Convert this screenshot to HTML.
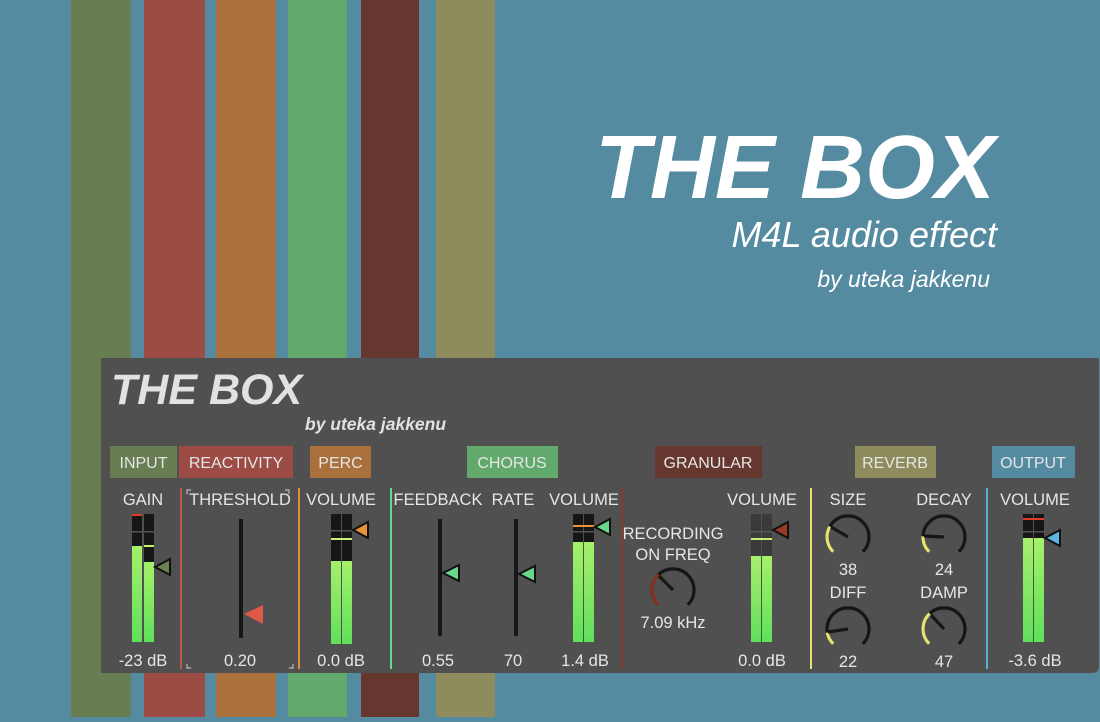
<!DOCTYPE html>
<html><head><meta charset="utf-8"><style>
html,body{margin:0;padding:0;}
body{width:1100px;height:717px;background:#548ba0;overflow:hidden;font-family:"Liberation Sans",sans-serif;}
svg text{font-family:"Liberation Sans",sans-serif;}
</style></head><body>
<svg width="1100" height="717" viewBox="0 0 1100 717" xmlns="http://www.w3.org/2000/svg">
<defs>
<linearGradient id="g" x1="0" y1="0" x2="0" y2="1"><stop offset="0" stop-color="#a6f06a"/><stop offset="1" stop-color="#5fe05a"/></linearGradient>
</defs>
<rect width="1100" height="717" fill="#548ba0"/>
<rect x="71" y="0" width="60" height="717" fill="#687d52"/>
<rect x="144" y="0" width="61" height="717" fill="#9c4b45"/>
<rect x="216" y="0" width="60" height="717" fill="#aa703e"/>
<rect x="288" y="0" width="59" height="717" fill="#62a96c"/>
<rect x="361" y="0" width="58" height="717" fill="#66372f"/>
<rect x="436" y="0" width="59" height="717" fill="#8e8c5c"/>
<text x="995" y="198" text-anchor="end" font-size="90" font-weight="bold" font-style="italic" fill="#fff">THE BOX</text>
<text x="997" y="247" text-anchor="end" font-size="36" font-style="italic" fill="#fff">M4L audio effect</text>
<text x="990" y="287" text-anchor="end" font-size="23" font-style="italic" fill="#fff">by uteka jakkenu</text>
<path d="M101 358 H1099 V666 Q1099 673 1092 673 H101 Z" fill="#505050"/>
<text x="111" y="404" font-size="43" font-weight="bold" font-style="italic" fill="#e2e2e2">THE BOX</text>
<text x="305" y="430" font-size="17.5" font-weight="bold" font-style="italic" fill="#e2e2e2">by uteka jakkenu</text>
<g font-size="16" fill="#e6e6e6" text-anchor="middle">
<rect x="110" y="446" width="67" height="32" fill="#687d52"/><text x="143.5" y="468">INPUT</text>
<rect x="179" y="446" width="114" height="32" fill="#9c4b45"/><text x="236" y="468">REACTIVITY</text>
<rect x="310" y="446" width="61" height="32" fill="#aa703e"/><text x="340.5" y="468">PERC</text>
<rect x="467" y="446" width="91" height="32" fill="#62a96c"/><text x="512" y="468">CHORUS</text>
<rect x="655" y="446" width="107" height="32" fill="#66372f"/><text x="708" y="468">GRANULAR</text>
<rect x="855" y="446" width="81" height="32" fill="#8e8c5c"/><text x="895" y="468">REVERB</text>
<rect x="992" y="446" width="83" height="32" fill="#548ba0"/><text x="1033" y="468">OUTPUT</text>
</g>
<rect x="180" y="488" width="2" height="181" fill="#c0574b"/>
<rect x="298" y="488" width="2" height="181" fill="#e08a3a"/>
<rect x="390" y="488" width="2" height="181" fill="#6ad88a"/>
<rect x="621" y="488" width="2" height="181" fill="#8a3a2a"/>
<rect x="810" y="488" width="2" height="181" fill="#e8e070"/>
<rect x="986" y="488" width="2" height="181" fill="#5ab0d0"/>
<g font-size="16.5" fill="#e6e6e6" text-anchor="middle">
<text x="143" y="505">GAIN</text>
<text x="240" y="505">THRESHOLD</text>
<text x="341" y="505">VOLUME</text>
<text x="438" y="505">FEEDBACK</text>
<text x="513" y="505">RATE</text>
<text x="584" y="505">VOLUME</text>
<text x="762" y="505">VOLUME</text>
<text x="673" y="539">RECORDING</text>
<text x="673" y="560">ON FREQ</text>
<text x="848" y="505">SIZE</text>
<text x="944" y="505">DECAY</text>
<text x="848" y="598">DIFF</text>
<text x="944" y="598">DAMP</text>
<text x="1035" y="505">VOLUME</text>
<text x="143" y="666">-23 dB</text>
<text x="240" y="666">0.20</text>
<text x="341" y="666">0.0 dB</text>
<text x="438" y="666">0.55</text>
<text x="513" y="666">70</text>
<text x="585" y="666">1.4 dB</text>
<text x="673" y="628">7.09 kHz</text>
<text x="762" y="666">0.0 dB</text>
<text x="848" y="575">38</text>
<text x="944" y="575">24</text>
<text x="848" y="667">22</text>
<text x="944" y="667">47</text>
<text x="1035" y="666">-3.6 dB</text>
</g>
<g stroke="#bbb" stroke-width="1.2" fill="none">
<path d="M187 494 V490 H191"/><path d="M289 494 V490 H285"/>
<path d="M187 664 V668 H191"/><path d="M293 664 V668 H289"/>
</g>
<g>
<rect x="132" y="514" width="10" height="128" fill="#161616"/><rect x="144" y="514" width="10" height="128" fill="#161616"/>
<rect x="132" y="546" width="10" height="96" fill="url(#g)"/><rect x="144" y="562" width="10" height="80" fill="url(#g)"/>
<rect x="132" y="514" width="10" height="2" fill="#e03a2a"/><rect x="144" y="545" width="10" height="2" fill="#c8f070"/>
<rect x="131" y="531" width="24" height="1.5" fill="#555"/>
<path d="M155 567 L170 559 L170 575 Z" fill="#6c8052" stroke="#111" stroke-width="2"/>
<rect x="239" y="519" width="4" height="119" fill="#161616"/>
<path d="M244 614 L263 605 L263 624 Z" fill="#e0584a"/>
<rect x="331" y="514" width="10" height="130" fill="#161616"/><rect x="342" y="514" width="10" height="130" fill="#161616"/>
<rect x="331" y="561" width="10" height="83" fill="url(#g)"/><rect x="342" y="561" width="10" height="83" fill="url(#g)"/>
<rect x="330" y="530" width="23" height="1.5" fill="#555"/>
<rect x="331" y="538" width="21" height="2" fill="#c8f070"/>
<path d="M353 530 L368 522 L368 538 Z" fill="#e8923a" stroke="#111" stroke-width="2"/>
<rect x="438" y="519" width="4" height="117" fill="#161616"/>
<path d="M443 573 L459 565 L459 581 Z" fill="#6ad88a" stroke="#111" stroke-width="2"/>
<rect x="514" y="519" width="4" height="117" fill="#161616"/>
<path d="M519 574 L535 566 L535 582 Z" fill="#6ad88a" stroke="#111" stroke-width="2"/>
<rect x="573" y="514" width="10" height="128" fill="#161616"/><rect x="584" y="514" width="10" height="128" fill="#161616"/>
<rect x="573" y="542" width="10" height="100" fill="url(#g)"/><rect x="584" y="542" width="10" height="100" fill="url(#g)"/>
<rect x="573" y="525" width="21" height="2" fill="#e8923a"/>
<rect x="572" y="531" width="23" height="1.5" fill="#555"/>
<path d="M595 527 L610 519 L610 535 Z" fill="#6ad88a" stroke="#111" stroke-width="2"/>
<rect x="751" y="514" width="10" height="128" fill="#3a3a3a"/><rect x="762" y="514" width="10" height="128" fill="#3a3a3a"/>
<rect x="751" y="556" width="10" height="86" fill="url(#g)"/><rect x="762" y="556" width="10" height="86" fill="url(#g)"/>
<rect x="750" y="531" width="23" height="1.5" fill="#555"/>
<rect x="751" y="538" width="21" height="2" fill="#c8f070"/>
<path d="M773 530 L788 522 L788 538 Z" fill="#9a3a26" stroke="#111" stroke-width="2"/>
<rect x="1023" y="514" width="10" height="128" fill="#161616"/><rect x="1034" y="514" width="10" height="128" fill="#161616"/>
<rect x="1023" y="538" width="10" height="104" fill="url(#g)"/><rect x="1034" y="538" width="10" height="104" fill="url(#g)"/>
<rect x="1023" y="518" width="21" height="2" fill="#e03a2a"/>
<rect x="1022" y="531" width="23" height="1.5" fill="#555"/>
<path d="M1045 538 L1060 530 L1060 546 Z" fill="#5ab8e0" stroke="#111" stroke-width="2"/>
</g>
<g fill="none" stroke-width="3.2">
<path d="M658.2 604.8 A21 21 0 1 1 687.8 604.8" stroke="#161616"/>
<path d="M658.2 604.8 A21 21 0 0 1 658.7 574.6" stroke="#8a3020"/>
<path d="M673 590 L659 576" stroke="#161616"/>
<path d="M833.2 551.8 A21 21 0 1 1 862.8 551.8" stroke="#161616"/>
<path d="M833.2 551.8 A21 21 0 0 1 829.8 526.5" stroke="#e8e070"/>
<path d="M848 537 L831 527" stroke="#161616"/>
<path d="M929.2 551.8 A21 21 0 1 1 958.8 551.8" stroke="#161616"/>
<path d="M929.2 551.8 A21 21 0 0 1 923 536.3" stroke="#e8e070"/>
<path d="M944 537 L924 536" stroke="#161616"/>
<path d="M833.2 643.8 A21 21 0 1 1 862.8 643.8" stroke="#161616"/>
<path d="M833.2 643.8 A21 21 0 0 1 827.3 632.6" stroke="#e8e070"/>
<path d="M848 629 L828 632" stroke="#161616"/>
<path d="M929.2 643.8 A21 21 0 1 1 958.8 643.8" stroke="#161616"/>
<path d="M929.2 643.8 A21 21 0 0 1 929.7 613.6" stroke="#e8e070"/>
<path d="M944 629 L931 615" stroke="#161616"/>
</g>
</svg>
</body></html>
